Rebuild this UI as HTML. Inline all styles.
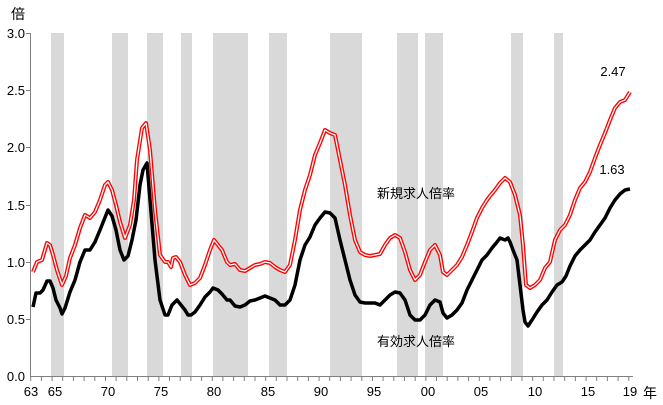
<!DOCTYPE html>
<html><head><meta charset="utf-8"><style>
html,body{margin:0;padding:0;background:#fff;}
svg{display:block;font-family:"Liberation Sans","Noto Sans CJK JP",sans-serif;}
</style></head><body>
<svg width="663" height="405" viewBox="0 0 663 405" xmlns="http://www.w3.org/2000/svg">
<g fill="#d9d9d9">
<rect x="51" y="33" width="13" height="343"/>
<rect x="112" y="33" width="16" height="343"/>
<rect x="147" y="33" width="16" height="343"/>
<rect x="181" y="33" width="11" height="343"/>
<rect x="213" y="33" width="35" height="343"/>
<rect x="269" y="33" width="18" height="343"/>
<rect x="330" y="33" width="32" height="343"/>
<rect x="397" y="33" width="21" height="343"/>
<rect x="425" y="33" width="18" height="343"/>
<rect x="511" y="33" width="12" height="343"/>
<rect x="554" y="33" width="9" height="343"/>
</g>
<g stroke="#808080" stroke-width="1" fill="none">
<line x1="30.5" y1="33" x2="30.5" y2="376"/>
<line x1="30" y1="376.5" x2="633" y2="376.5"/>
<path d="M26 33.5H30M26 90.5H30M26 147.5H30M26 205.5H30M26 262.5H30M26 319.5H30"/>
<path d="M30.7 376V381M41.4 376V381M52.1 376V381M62.7 376V381M73.4 376V381M84.1 376V381M94.8 376V381M105.5 376V381M116.1 376V381M126.8 376V381M137.5 376V381M148.2 376V381M158.9 376V381M169.5 376V381M180.2 376V381M190.9 376V381M201.6 376V381M212.3 376V381M222.9 376V381M233.6 376V381M244.3 376V381M255.0 376V381M265.7 376V381M276.3 376V381M287.0 376V381M297.7 376V381M308.4 376V381M319.1 376V381M329.7 376V381M340.4 376V381M351.1 376V381M361.8 376V381M372.5 376V381M383.1 376V381M393.8 376V381M404.5 376V381M415.2 376V381M425.9 376V381M436.5 376V381M447.2 376V381M457.9 376V381M468.6 376V381M479.3 376V381M489.9 376V381M500.6 376V381M511.3 376V381M522.0 376V381M532.7 376V381M543.3 376V381M554.0 376V381M564.7 376V381M575.4 376V381M586.1 376V381M596.7 376V381M607.4 376V381M618.1 376V381M628.8 376V381"/>
</g>
<g font-size="13" fill="#000" text-anchor="end">
<text x="25" y="38">3.0</text><text x="25" y="95">2.5</text><text x="25" y="152">2.0</text>
<text x="25" y="210">1.5</text><text x="25" y="267">1.0</text><text x="25" y="324">0.5</text><text x="25" y="381">0.0</text>
</g>
<g font-size="13" fill="#000" text-anchor="middle">
<text x="31" y="396">63</text><text x="55" y="396">65</text><text x="108" y="396">70</text><text x="161" y="396">75</text>
<text x="214" y="396">80</text><text x="268" y="396">85</text><text x="321" y="396">90</text><text x="374" y="396">95</text>
<text x="428" y="396">00</text><text x="481" y="396">05</text><text x="535" y="396">10</text><text x="588" y="396">15</text>
<text x="630" y="396">19</text>
</g>
<text x="650" y="398" font-size="14" text-anchor="middle">年</text>
<text x="18" y="19" font-size="14" text-anchor="middle">倍</text>
<text x="613" y="76" font-size="13" text-anchor="middle">2.47</text>
<text x="612" y="174" font-size="13" text-anchor="middle">1.63</text>
<text x="377" y="198" font-size="13">新規求人倍率</text>
<text x="377" y="346" font-size="13">有効求人倍率</text>
<g fill="none" stroke-linejoin="round">
<polyline stroke="#ff0000" stroke-width="4" points="33,272 37,262 42,260 47,243 50,245 53,255 57,270 62,285 66,276 70,258 75,245 80,228 85,215 90,218 95,212 100,200 105,185 108,182 112,190 116,205 120,222 125,238 130,225 134,200 137,160 142,128 146,123 150,150 155,210 160,255 165,262 168,262 171,267 173,258 176,257 180,262 185,275 190,285 195,283 200,278 205,265 210,250 214,240 218,245 222,250 227,262 230,265 235,264 240,270 245,271 250,268 255,265 260,264 265,262 270,263 275,267 280,270 285,272 290,265 295,240 300,210 305,190 310,175 315,155 320,143 325,130 330,133 335,135 340,160 345,185 350,215 355,240 360,252 365,255 370,256 375,255 380,254 385,245 390,238 395,235 400,238 405,252 410,270 415,280 420,275 425,262 430,250 435,245 440,255 443,272 447,275 452,270 457,265 462,257 467,245 472,232 477,218 482,208 487,200 490,196 495,190 500,183 505,178 510,182 515,195 520,215 523,245 526,285 530,288 535,285 540,280 545,268 550,262 555,240 560,230 565,225 570,215 575,200 580,188 585,182 590,172 595,158 600,145 605,133 610,120 615,108 620,102 625,100 630,92"/>
<polyline stroke="#ffffff" stroke-width="1.3" points="33,272 37,262 42,260 47,243 50,245 53,255 57,270 62,285 66,276 70,258 75,245 80,228 85,215 90,218 95,212 100,200 105,185 108,182 112,190 116,205 120,222 125,238 130,225 134,200 137,160 142,128 146,123 150,150 155,210 160,255 165,262 168,262 171,267 173,258 176,257 180,262 185,275 190,285 195,283 200,278 205,265 210,250 214,240 218,245 222,250 227,262 230,265 235,264 240,270 245,271 250,268 255,265 260,264 265,262 270,263 275,267 280,270 285,272 290,265 295,240 300,210 305,190 310,175 315,155 320,143 325,130 330,133 335,135 340,160 345,185 350,215 355,240 360,252 365,255 370,256 375,255 380,254 385,245 390,238 395,235 400,238 405,252 410,270 415,280 420,275 425,262 430,250 435,245 440,255 443,272 447,275 452,270 457,265 462,257 467,245 472,232 477,218 482,208 487,200 490,196 495,190 500,183 505,178 510,182 515,195 520,215 523,245 526,285 530,288 535,285 540,280 545,268 550,262 555,240 560,230 565,225 570,215 575,200 580,188 585,182 590,172 595,158 600,145 605,133 610,120 615,108 620,102 625,100 630,92"/>
<polyline stroke="#000" stroke-width="3.5" points="33,307 36,293 40,293 43,290 47,281 50,281 53,288 56,300 60,308 62,314 65,308 70,292 75,280 80,262 85,250 90,250 95,242 100,230 104,220 108,210 112,216 116,230 120,250 124,260 128,256 132,240 136,220 140,185 143,170 147,163 150,200 155,260 160,300 165,315 168,315 172,305 177,300 181,305 185,310 188,315 191,315 195,312 200,305 205,297 210,292 213,288 218,290 222,294 227,300 230,300 235,306 240,307 245,305 250,301 255,300 260,298 265,296 270,298 275,300 280,305 285,305 290,300 295,285 300,260 305,245 310,237 315,225 320,218 325,212 330,213 335,218 340,240 345,260 350,280 355,295 360,302 365,303 370,303 375,303 380,305 385,300 390,295 395,292 400,293 405,300 410,315 415,320 420,320 425,315 430,305 435,300 440,302 443,313 447,318 452,315 457,310 462,303 467,290 472,280 477,270 482,260 487,255 492,248 497,242 500,238 505,240 508,238 510,242 513,250 517,260 520,285 523,310 525,322 528,326 532,320 537,312 542,305 547,300 552,292 557,285 562,282 566,276 570,266 575,256 580,250 585,245 590,240 595,232 600,225 605,218 610,208 615,200 620,194 625,190 630,189"/>
</g>
</svg>
</body></html>
